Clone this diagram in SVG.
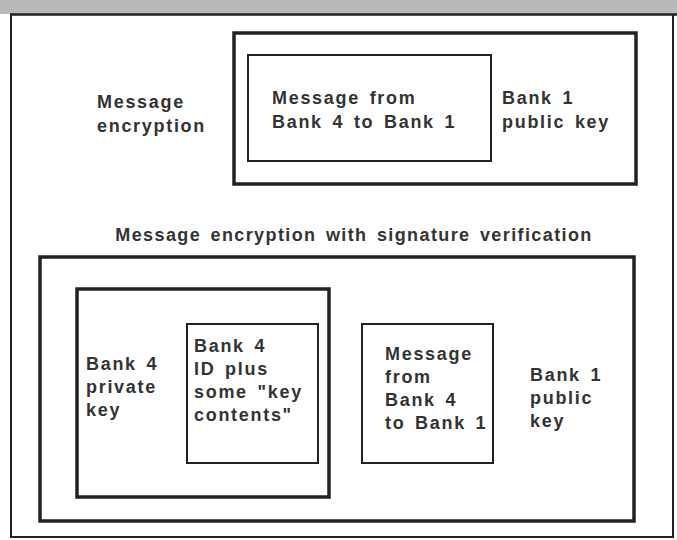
<svg xmlns="http://www.w3.org/2000/svg" width="677" height="540" viewBox="0 0 677 540">
<style>
.t{font-family:"Liberation Sans",Arial,sans-serif;font-weight:bold;font-size:18px;fill:#333;letter-spacing:1.7px;word-spacing:3px}
.t2{font-family:"Liberation Sans",Arial,sans-serif;font-weight:bold;font-size:18px;fill:#333;letter-spacing:1.4px;word-spacing:3px}
.thick{fill:none;stroke:#222;stroke-width:3.5}
.thin{fill:none;stroke:#222;stroke-width:2}
</style>
<rect x="0" y="0" width="677" height="540" fill="#fff"/>
<g id="header">
<rect x="0" y="0" width="677" height="14" fill="#b9b9b9"/>
<line x1="10" y1="14.5" x2="677" y2="14.5" stroke="#222" stroke-width="2.5"/>
</g>
<g id="frame">
<path d="M11,14 V537 H673 V14" class="thin" stroke-width="2.5"/>
</g>
<g id="top-label">
<text class="t" x="97" y="108">Message</text>
<text class="t" x="97" y="132">encryption</text>
</g>
<g id="top-outer">
<rect class="thick" x="234" y="33" width="402" height="151"/>
<text class="t" x="502" y="104">Bank 1</text>
<text class="t" x="502" y="128">public key</text>
</g>
<g id="top-inner">
<rect class="thin" x="248" y="55" width="243" height="106"/>
<text class="t" x="272" y="104">Message from</text>
<text class="t" x="272" y="128">Bank 4 to Bank 1</text>
</g>
<g id="bottom-label">
<text class="t2" x="354" y="241" text-anchor="middle">Message encryption with signature verification</text>
</g>
<g id="bottom-outer">
<rect class="thick" x="40" y="257" width="594" height="264"/>
<text class="t" x="530" y="381">Bank 1</text>
<text class="t" x="530" y="404">public</text>
<text class="t" x="530" y="427">key</text>
</g>
<g id="private-key">
<rect class="thick" x="77" y="289" width="252" height="208"/>
<text class="t" x="86" y="370">Bank 4</text>
<text class="t" x="86" y="393">private</text>
<text class="t" x="86" y="416">key</text>
</g>
<g id="key-contents">
<rect class="thin" x="187" y="324" width="131" height="139"/>
<text class="t" x="194" y="352">Bank 4</text>
<text class="t" x="194" y="375">ID plus</text>
<text class="t" x="194" y="398">some "key</text>
<text class="t" x="194" y="421">contents"</text>
</g>
<g id="message">
<rect class="thin" x="362" y="324" width="131" height="139"/>
<text class="t" x="385" y="360">Message</text>
<text class="t" x="385" y="383">from</text>
<text class="t" x="385" y="406">Bank 4</text>
<text class="t" x="385" y="429">to Bank 1</text>
</g>
<g id="connectors"/>
</svg>
